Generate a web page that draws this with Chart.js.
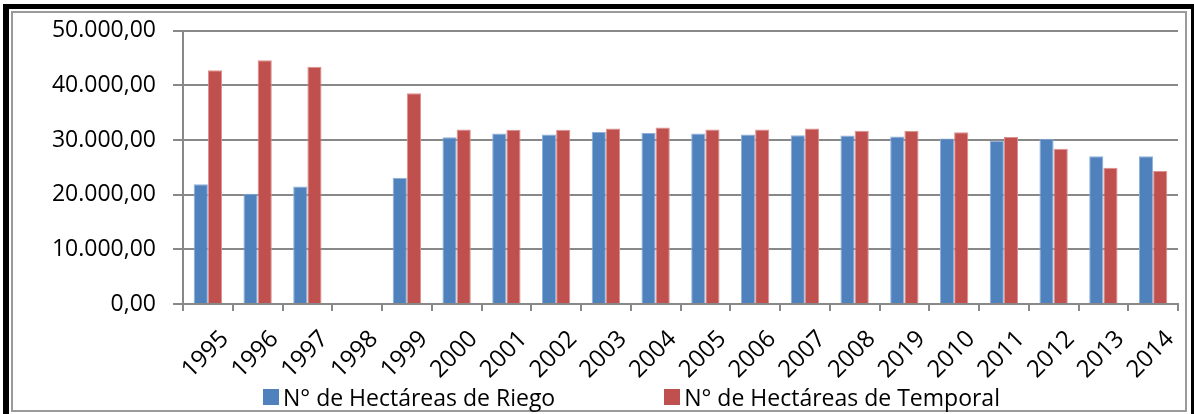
<!DOCTYPE html>
<html lang="es">
<head>
<meta charset="utf-8">
<title>Hectáreas de Riego y Temporal</title>
<script src="https://cdn.jsdelivr.net/npm/chart.js@4.4.1/dist/chart.umd.min.js"></script>
<style>
    body { margin: 0; background: #fff; }
    .chart_wrap { position: relative; width: 1194px; height: 414px; overflow: hidden; background: #fff; }
    .marco_negro {
        position: absolute; left: 3px; top: 4px; right: 0; height: 430px;
        border-left: 6px solid #000; border-top: 5px solid #000; border-right: 3px solid #000;
        box-sizing: border-box;
    }
    .marco_gris {
        position: absolute; left: 11px; top: 11px; width: 1176px; height: 401px;
        border: 2px solid #9a9a9a; box-sizing: border-box;
    }
    #grafico { position: absolute; left: 0; top: 0; }
    .leyenda {
        position: absolute; left: 263px; top: 381px; display: flex; gap: 109px;
        font-family: 'Open Sans', sans-serif; font-size: 23px; color: #000; line-height: 32px;
    }
    .leyenda_item { display: flex; align-items: center; white-space: nowrap; }
    .leyenda_caja { width: 16px; height: 16px; margin-right: 4px; }
</style>
</head>
<body>
<div class="chart_wrap">
    <div class="marco_negro"></div>
    <div class="marco_gris"></div>
    <canvas id="grafico" width="1194" height="414"></canvas>
    <div class="leyenda" id="leyenda"></div>
</div>
<script>
// Datos
const anios = ['1995', '1996', '1997', '1998', '1999', '2000', '2001', '2002', '2003', '2004',
    '2005', '2006', '2007', '2008', '2019', '2010', '2011', '2012', '2013', '2014'];
const hectareasRiego = [21900, 20200, 21500, null, 23100, 30500, 31200, 31000, 31500, 31300,
    31200, 31000, 30900, 30850, 30650, 30300, 29900, 30250, 27050, 27050];
const hectareasTemporal = [42800, 44600, 43400, null, 38550, 31950, 31900, 31900, 32100, 32300,
    31950, 31950, 32100, 31700, 31700, 31450, 30550, 28400, 24950, 24350];
const nombresSeries = ['N° de Hectáreas de Riego', 'N° de Hectáreas de Temporal'];
const etiquetasY = ['0,00', '10.000,00', '20.000,00', '30.000,00', '40.000,00', '50.000,00'];

document.addEventListener('DOMContentLoaded', function() {
    const colorRejilla = '#888888';
    Chart.defaults.font.family = "'Open Sans', sans-serif";
    Chart.defaults.font.size = 23;
    Chart.defaults.color = '#000';

    const ctx = document.getElementById('grafico').getContext('2d');
    const grafico = new Chart(ctx, {
        type: 'bar',
        data: {
            labels: anios,
            datasets: [{
                label: nombresSeries[0],
                data: hectareasRiego,
                backgroundColor: '#4F81BD',
                borderColor: '#8EB0DA',
                borderWidth: 1,
                borderSkipped: 'bottom'
            }, {
                label: nombresSeries[1],
                data: hectareasTemporal,
                backgroundColor: '#C0504D',
                borderColor: '#DE908E',
                borderWidth: 1,
                borderSkipped: 'bottom'
            }]
        },
        options: {
            responsive: false,
            animation: false,
            categoryPercentage: 0.57,
            barPercentage: 1,
            layout: { padding: { left: 12, right: 16, top: 28, bottom: 0 } },
            plugins: {
                legend: { display: false },
                tooltip: { enabled: false }
            },
            scales: {
                x: {
                    offset: true,
                    grid: {
                        offset: true,
                        drawOnChartArea: false,
                        drawTicks: true,
                        tickLength: 7,
                        color: colorRejilla,
                        lineWidth: 2
                    },
                    border: { color: colorRejilla, width: 2 },
                    ticks: {
                        autoSkip: false,
                        minRotation: 45,
                        maxRotation: 45,
                        padding: 14,
                        labelOffset: 17,
                        font: { size: 24 }
                    },
                    afterFit: function(scale) { scale.height = 110; }
                },
                y: {
                    min: 0,
                    max: 50000,
                    ticks: {
                        stepSize: 10000,
                        padding: 17,
                        callback: function(value) {
                            return etiquetasY[Math.round(value / 10000)];
                        }
                    },
                    grid: { color: colorRejilla, lineWidth: 2, tickLength: 10 },
                    border: { color: colorRejilla, width: 2 },
                    afterFit: function(scale) { scale.width = 171; }
                }
            }
        }
    });

    // Leyenda en HTML a partir de los datasets
    const leyenda = document.getElementById('leyenda');
    grafico.data.datasets.forEach(ds => {
        const item = document.createElement('div');
        item.className = 'leyenda_item';
        const caja = document.createElement('span');
        caja.className = 'leyenda_caja';
        caja.style.background = ds.backgroundColor;
        const texto = document.createElement('span');
        texto.textContent = ds.label;
        item.appendChild(caja);
        item.appendChild(texto);
        leyenda.appendChild(item);
    });
});
</script>
</body>
</html>
